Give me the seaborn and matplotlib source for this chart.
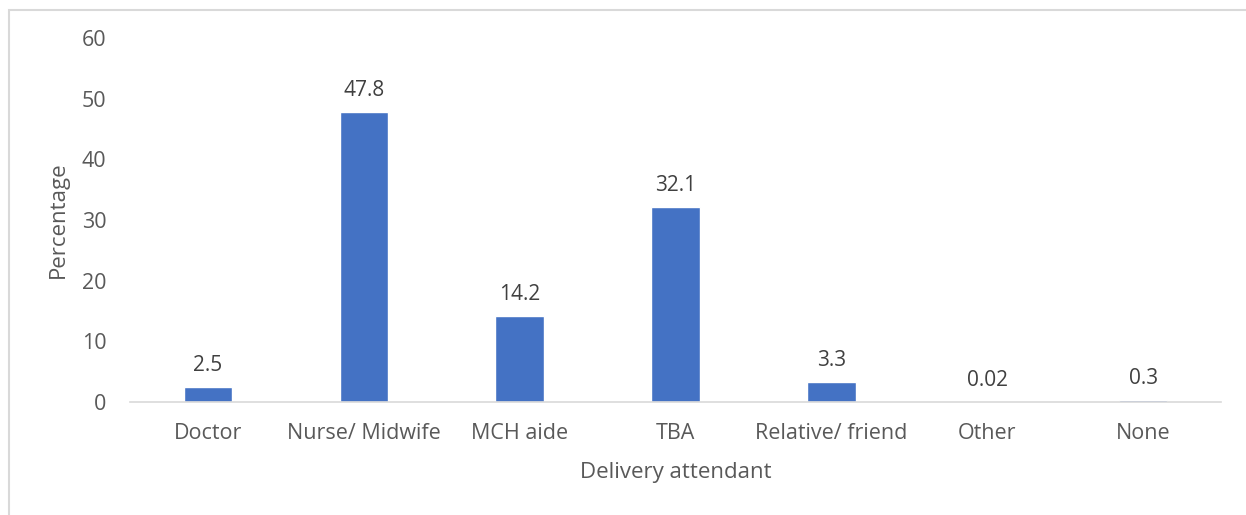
import matplotlib
matplotlib.use("Agg")
import matplotlib.pyplot as plt
import seaborn as sns
import pandas as pd
from matplotlib.patches import Rectangle

categories = ["Doctor", "Nurse/ Midwife", "MCH aide", "TBA", "Relative/ friend", "Other", "None"]
values = [2.5, 47.8, 14.2, 32.1, 3.3, 0.02, 0.3]
labels = ["2.5", "47.8", "14.2", "32.1", "3.3", "0.02", "0.3"]
yticks = [0, 10, 20, 30, 40, 50, 60]

sns.set_style("white")
plt.rcParams["font.family"] = ["Open Sans", "DejaVu Sans"]

df = pd.DataFrame({"attendant": categories, "pct": values})

fig = plt.figure(figsize=(12.46, 5.15), dpi=100)
ax = fig.add_axes([130 / 1246, 1 - 402 / 515, (1221 - 130) / 1246, (402 - 38) / 515])

sns.barplot(data=df, x="attendant", y="pct", color="#4472C4", width=0.31,
            saturation=1, ax=ax)

for i, (v, t) in enumerate(zip(values, labels)):
    ax.annotate(t, (i, v), xytext=(0, 8), textcoords="offset points",
                ha="center", va="bottom", fontsize=15, color="#404040")

ax.set_ylim(0, 60)
ax.set_xlim(-0.5, len(categories) - 0.5)
ax.set_yticks(yticks)
ax.tick_params(axis="both", length=0, labelsize=15.5, labelcolor="#595959")
ax.tick_params(axis="y", pad=17)
ax.tick_params(axis="x", pad=15)
for s in ["top", "right", "left"]:
    ax.spines[s].set_visible(False)
ax.spines["bottom"].set_color("#D9D9D9")
ax.spines["bottom"].set_linewidth(1.2)

ax.set_xlabel("Delivery attendant", fontsize=16, color="#595959", labelpad=13)
ax.set_ylabel("Percentage", fontsize=16, color="#595959", labelpad=9)

fig.patches.append(Rectangle((9 / 1246, -0.1), 1.2, 1 - 10 / 515 + 0.1,
                             transform=fig.transFigure, fill=False,
                             edgecolor="#D9D9D9", linewidth=1.5))

plt.savefig("out.png", dpi=100)
